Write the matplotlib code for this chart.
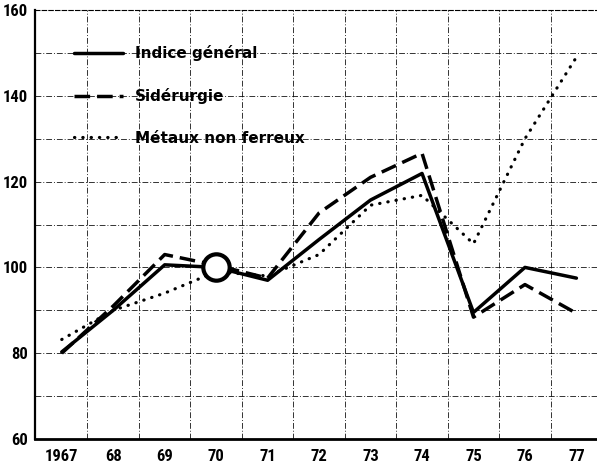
import matplotlib.pyplot as plt
from matplotlib import font_manager
import numpy as np

annees = ['1967', '68', '69', '70', '71', '72', '73', '74', '75', '76', '77']
indice_general = [80.3, 90, 100.6, 100, 97, 106.5, 115.7, 121.9, 89.5, 100, 97.5]
siderurgie = [80, 91, 103, 100.5, 97.5, 112.7, 121, 126.6, 88.4, 96, 89.3]
metaux = [83.2, 90, 94, 99, 98, 103, 114.5, 116.8, 105.5, 130, 149]

x = np.arange(len(annees))

# police etroite pour les graduations, si disponible
noms = {f.name for f in font_manager.fontManager.ttflist}
etroite = 'DejaVu Sans'
for cand in ['Liberation Sans Narrow', 'DejaVu Sans Condensed', 'Roboto Condensed',
             'Open Sans Condensed', 'Noto Sans Condensed']:
    if cand in noms:
        etroite = cand
        break
taille = 12 if etroite != 'DejaVu Sans' else 9

fig = plt.figure(figsize=(5.97, 4.67), dpi=100)
ax = fig.add_axes([35 / 597, 28 / 467, 562 / 597, 429 / 467])

# grille pointillee
for v in np.arange(70, 160, 10):
    ax.axhline(v, color='black', lw=0.7, ls=(0, (6, 2, 1, 2)), alpha=0.8, zorder=1)
for g in np.arange(0.5, 10.5, 1):
    ax.axvline(g, color='black', lw=0.7, ls=(0, (6, 2, 1, 2)), alpha=0.8, zorder=1)

ax.plot(x, indice_general, color='black', lw=2.5, solid_capstyle='round',
        label='Indice général', zorder=3)
ax.plot(x, siderurgie, color='black', lw=2.5, ls=(0, (4.5, 2)),
        label='Sidérurgie', zorder=3)
ax.plot(x, metaux, color='black', lw=2.3, ls=(0, (0.1, 2.5)),
        dash_capstyle='round', label='Métaux non ferreux', zorder=3)

# base 100 en 1970
ax.plot([3], [100], marker='o', ms=19, mfc='white', mec='black', mew=3, zorder=5)

ax.set_xlim(-0.52, 10.4)
ax.set_ylim(60, 160)
ax.set_xticks(x)
ax.set_xticklabels(annees, fontsize=taille, fontweight='bold', family=etroite)
ax.set_yticks([60, 80, 100, 120, 140, 160])
ax.set_yticklabels(['60', '80', '100', '120', '140', '160'], fontsize=taille,
                   fontweight='bold', family=etroite)
ax.tick_params(axis='y', length=0, pad=5)
ax.tick_params(axis='x', length=0, pad=7)

ax.spines['right'].set_visible(False)
ax.spines['top'].set_linestyle((0, (4, 2)))
ax.spines['top'].set_linewidth(0.8)
ax.spines['left'].set_linewidth(1.6)
ax.spines['bottom'].set_linewidth(2)

leg = ax.legend(loc='upper left', bbox_to_anchor=(0.045, 0.95), frameon=False,
                handlelength=3.2, labelspacing=1.75, handletextpad=0.8,
                prop={'size': 11, 'weight': 'bold'})

fig.savefig('out.png', dpi=100)
